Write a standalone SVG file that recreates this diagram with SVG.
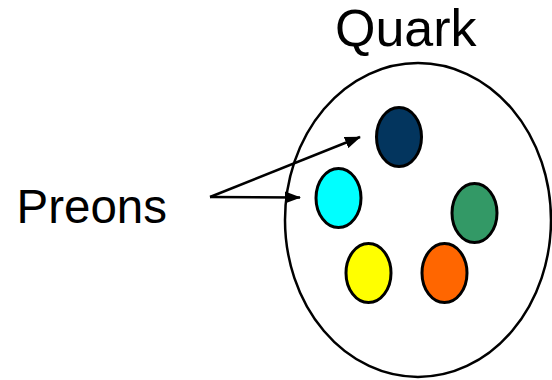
<svg xmlns="http://www.w3.org/2000/svg" width="552" height="380" viewBox="0 0 552 380">
<style>
text{font-family:"Liberation Sans",Arial,sans-serif;fill:#000}
.p{stroke:#000;stroke-width:3}
.c{stroke:#000;stroke-width:2.5;fill:none}
</style>
<defs>
<marker id="ah" markerWidth="16" markerHeight="12" refX="15" refY="6" orient="auto" markerUnits="userSpaceOnUse">
<path d="M0,0 L16,6 L0,12 z" fill="#000"/>
</marker>
</defs>
<rect width="552" height="380" fill="#fff"/>
<g id="quark">
<ellipse cx="418" cy="220" rx="133" ry="157" fill="#fff" stroke="#000" stroke-width="2.5"/>
<text x="335" y="46" font-size="52">Quark</text>
</g>
<g id="preon-navy"><ellipse class="p" cx="399" cy="137" rx="22.5" ry="29.5" fill="#03355e"/></g>
<g id="preon-cyan"><ellipse class="p" cx="338.5" cy="198" rx="22.5" ry="29.5" fill="#00ffff"/></g>
<g id="preon-green"><ellipse class="p" cx="474.5" cy="213" rx="22.5" ry="29.5" fill="#339966"/></g>
<g id="preon-yellow"><ellipse class="p" cx="368.5" cy="273" rx="22.5" ry="29.5" fill="#ffff00"/></g>
<g id="preon-orange"><ellipse class="p" cx="444.5" cy="273" rx="22.5" ry="29.5" fill="#ff6600"/></g>
<g id="preons-label"><text x="16.5" y="223" font-size="47.5">Preons</text></g>
<g id="connectors">
<line class="c" x1="210" y1="197" x2="360" y2="137" marker-end="url(#ah)"/>
<line class="c" x1="210" y1="197" x2="300" y2="197.5" marker-end="url(#ah)"/>
</g>
</svg>
